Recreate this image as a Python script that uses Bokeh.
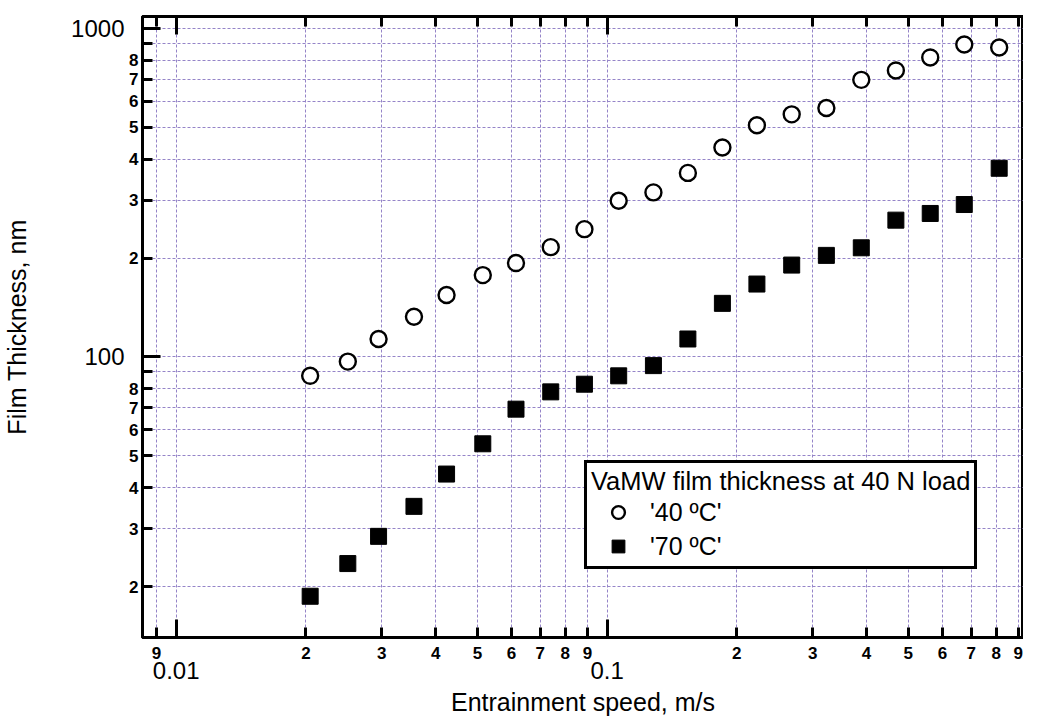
from bokeh.plotting import figure
from bokeh.models import LogAxis, FixedTicker, CustomJSTickFormatter, Legend, LegendItem, Range1d
from bokeh.embed import file_html
from bokeh.resources import INLINE

# ---- data ----
speed = [0.02046, 0.02502, 0.02949, 0.03563, 0.04241, 0.05147, 0.06146, 0.07400,
         0.08860, 0.1064, 0.1281, 0.1540, 0.1852, 0.2227, 0.2682, 0.3228,
         0.3890, 0.4680, 0.5623, 0.6745, 0.8128]
film_40C = [87.6, 96.8, 113.4, 132.6, 154.3, 177.5, 193.1, 215.9, 244.9, 299.0,
            316.9, 363.3, 434.3, 507.3, 547.8, 572.6, 697.5, 745.2, 816.3, 894.0, 875.3]
film_70C = [18.68, 23.49, 28.43, 35.08, 44.00, 54.40, 69.34, 78.28, 82.6, 87.6,
            94.1, 113.4, 145.6, 166.7, 190.4, 203.8, 214.9, 260.9, 273.4, 291.1, 375.3]

series_labels = ["'40 \u00baC'", "'70 \u00baC'"]
legend_title = "VaMW film thickness at 40 N load"
x_title = "Entrainment speed, m/s"
y_title = "Film Thickness, nm"

x_digit_ticks = [0.009, 0.02, 0.03, 0.04, 0.05, 0.06, 0.07, 0.08, 0.09,
                 0.2, 0.3, 0.4, 0.5, 0.6, 0.7, 0.8, 0.9]
x_decade_ticks = [0.01, 0.1]
y_digit_ticks = [20, 30, 40, 50, 60, 70, 80, 90, 200, 300, 400, 500, 600, 700, 800, 900]
y_decade_ticks = [100, 1000]

x_limits = (0.008352, 0.9256)
y_limits = (13.99, 1087.6)

FONT = "Liberation Sans"
GRID = "#9584c8"

p = figure(width=1023, height=718, x_axis_type="log", y_axis_type="log",
           x_range=Range1d(*x_limits), y_range=Range1d(*y_limits),
           output_backend="svg", toolbar_location=None,
           min_border_left=135, min_border_right=0, min_border_top=16, min_border_bottom=0)
p.background_fill_color = "white"
p.border_fill_color = "white"
p.outline_line_color = "black"
p.outline_line_width = 3

digit_fmt_x = CustomJSTickFormatter(code="""
const e = Math.floor(Math.log10(tick) + 1e-9);
const m = Math.round(tick / Math.pow(10, e));
return String(m);
""")
digit_fmt_y = CustomJSTickFormatter(code="""
const e = Math.floor(Math.log10(tick) + 1e-9);
const m = Math.round(tick / Math.pow(10, e));
return m === 9 ? "" : String(m);
""")
plain_fmt = CustomJSTickFormatter(code="return tick.toString();")


def style_tick_axis(ax):
    ax.major_tick_in = 10
    ax.major_tick_out = 0
    ax.minor_tick_in = 18
    ax.minor_tick_out = 0
    ax.major_tick_line_width = 3
    ax.minor_tick_line_width = 3
    ax.axis_line_width = 3
    ax.axis_line_color = "black"
    ax.major_tick_line_color = "black"
    ax.minor_tick_line_color = "black"


xa = p.xaxis[0]
xa.ticker = FixedTicker(ticks=x_digit_ticks, minor_ticks=x_decade_ticks)
xa.formatter = digit_fmt_x
style_tick_axis(xa)
xa.major_label_text_font = FONT
xa.major_label_text_font_size = "17px"
xa.major_label_text_font_style = "bold"
xa.major_label_text_color = "black"
xa.major_label_standoff = 9

xb = LogAxis(ticker=FixedTicker(ticks=x_decade_ticks, minor_ticks=[]), formatter=plain_fmt,
             axis_line_color=None, major_tick_line_color=None, minor_tick_line_color=None,
             major_tick_in=0, major_tick_out=0, minor_tick_in=0, minor_tick_out=0,
             major_label_standoff=0, major_label_text_font=FONT,
             major_label_text_font_size="24px", major_label_text_color="black",
             axis_label=x_title, axis_label_text_font=FONT, axis_label_text_font_size="25px",
             axis_label_text_font_style="normal", axis_label_text_color="black",
             axis_label_standoff=6)
p.add_layout(xb, "below")

ya = p.yaxis[0]
ya.ticker = FixedTicker(ticks=y_digit_ticks, minor_ticks=y_decade_ticks)
ya.formatter = digit_fmt_y
style_tick_axis(ya)
ya.major_label_text_font = FONT
ya.major_label_text_font_size = "17px"
ya.major_label_text_font_style = "bold"
ya.major_label_text_color = "black"
ya.major_label_standoff = 4

yb = LogAxis(ticker=FixedTicker(ticks=y_decade_ticks, minor_ticks=[]), formatter=plain_fmt,
             axis_line_color=None, major_tick_line_color=None, minor_tick_line_color=None,
             major_tick_in=0, major_tick_out=0, minor_tick_in=0, minor_tick_out=0,
             major_label_standoff=2, major_label_text_font=FONT,
             major_label_text_font_size="24px", major_label_text_color="black",
             axis_label=y_title, axis_label_text_font=FONT, axis_label_text_font_size="25px",
             axis_label_text_font_style="normal", axis_label_text_color="black",
             axis_label_standoff=37)
p.add_layout(yb, "left")

xt = LogAxis(ticker=FixedTicker(ticks=x_digit_ticks, minor_ticks=x_decade_ticks),
             formatter=CustomJSTickFormatter(code="return '';"),
             major_label_text_font_size="0px", major_label_standoff=0)
style_tick_axis(xt)
p.add_layout(xt, "above")

p.xgrid[0].ticker = FixedTicker(ticks=sorted(x_digit_ticks + x_decade_ticks))
p.ygrid[0].ticker = FixedTicker(ticks=sorted(y_digit_ticks + y_decade_ticks))
for g in (p.xgrid[0], p.ygrid[0]):
    g.grid_line_color = GRID
    g.grid_line_width = 1
    g.grid_line_dash = "3 2"
    g.grid_line_alpha = 1.0

r40 = p.scatter(speed, film_40C, marker="circle", size=16, fill_color="white",
                line_color="black", line_width=2.4)
r70 = p.scatter(speed, film_70C, marker="square", size=16, fill_color="black",
                line_color="black", line_width=1)

legend = Legend(items=[LegendItem(label=series_labels[0], renderers=[r40]),
                       LegendItem(label=series_labels[1], renderers=[r70])],
                title=legend_title, location=(442, 68),
                border_line_color="black", border_line_width=3, border_line_alpha=1.0,
                background_fill_color="white", background_fill_alpha=1.0,
                padding=4, margin=0,
                label_text_font=FONT, label_text_font_size="25px", label_text_color="black",
                title_text_font=FONT, title_text_font_size="25.5px", title_text_font_style="normal",
                title_text_color="black",
                glyph_width=54, glyph_height=32, spacing=2, label_standoff=5, title_standoff=0)
p.add_layout(legend)

html = file_html(p, INLINE, title="Film thickness")
with open("out.html", "w", encoding="utf-8") as f:
    f.write(html)
